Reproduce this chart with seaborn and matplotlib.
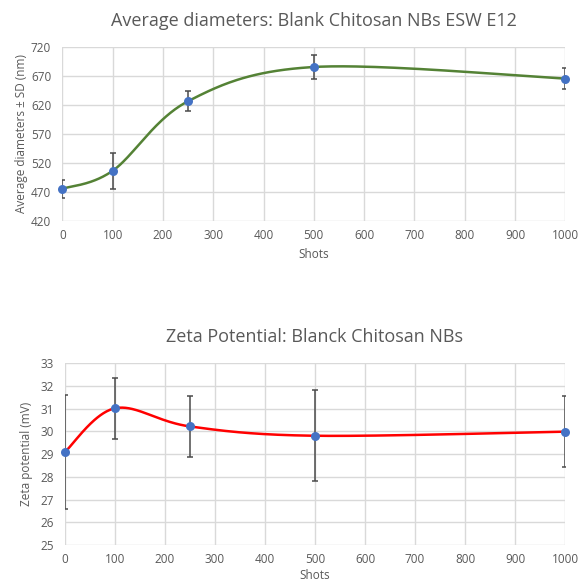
import numpy as np
import pandas as pd
import matplotlib
matplotlib.use("Agg")
import matplotlib.pyplot as plt
import seaborn as sns

# ---- data ----
shots = [0, 100, 250, 500, 1000]
diam_mean = [475, 506, 626, 685, 665]
diam_sd = [16, 31, 17, 20, 18]
zeta_mean = [29.1, 31.02, 30.22, 29.81, 29.99]
zeta_sd = [2.5, 1.35, 1.33, 2.0, 1.56]

title_top = "Average diameters: Blank Chitosan NBs ESW E12"
title_bot = "Zeta Potential: Blanck Chitosan NBs"
ylabel_top = "Average diameters ± SD (nm)"
ylabel_bot = "Zeta potential (mV)"
xlabel = "Shots"
xticks = list(range(0, 1001, 100))
yticks_top = list(range(420, 721, 50))
yticks_bot = list(range(25, 34))

sns.set_theme(style="whitegrid")
plt.rcParams['font.family'] = ['Open Sans', 'DejaVu Sans']

TXT = "#595959"
GRID = "#D9D9D9"
BLUE = "#4472C4"


def smooth(xs, ys, sx, sy, n=60):
    """Excel-like smoothed line: cubic Bezier with Catmull-Rom control points,
    computed in screen-proportional space."""
    P = np.column_stack([np.asarray(xs, float) * sx, np.asarray(ys, float) * sy])
    Pp = np.vstack([P[0], P, P[-1]])
    out = []
    t = np.linspace(0, 1, n)[:, None]
    for i in range(len(P) - 1):
        p0, p1, p2, p3 = Pp[i], Pp[i + 1], Pp[i + 2], Pp[i + 3]
        c1 = p1 + (p2 - p0) / 6.0
        c2 = p2 - (p3 - p1) / 6.0
        seg = ((1 - t) ** 3) * p1 + 3 * ((1 - t) ** 2) * t * c1 + 3 * (1 - t) * t ** 2 * c2 + t ** 3 * p2
        out.append(seg if i == 0 else seg[1:])
    out = np.vstack(out)
    return out[:, 0] / sx, out[:, 1] / sy


fig = plt.figure(figsize=(5.83, 5.85), dpi=100)
ax1 = fig.add_axes([62.3 / 583, 1 - 220.7 / 585, (565.3 - 62.3) / 583, (220.7 - 46.7) / 585])
ax2 = fig.add_axes([65 / 583, 1 - 545 / 585, (565 - 65) / 583, (545 - 363.3) / 585])


def draw(ax, mean, sd, color, ylim, yticks, title, ylabel, sy, ylpad, xlpad):
    sx = 500 / 1000
    cx, cy = smooth(shots, mean, sx, sy)
    sns.lineplot(x=cx, y=cy, ax=ax, color=color, linewidth=1.8, sort=False, estimator=None, zorder=3)
    ax.errorbar(shots, mean, yerr=sd, fmt="none", ecolor="#4a4a4a", elinewidth=1.1,
                capsize=2.3, capthick=1.1, zorder=4)
    df = pd.DataFrame({"shots": shots, "v": mean})
    sns.scatterplot(data=df, x="shots", y="v", ax=ax, color=BLUE, s=42, edgecolor=BLUE,
                    linewidth=0, zorder=5, clip_on=False)
    ax.set_xlim(0, 1000)
    ax.set_ylim(*ylim)
    ax.set_xticks(xticks)
    ax.set_yticks(yticks)
    ax.grid(True, color=GRID, linewidth=1.0)
    for s in ax.spines.values():
        s.set_visible(False)
    ax.tick_params(axis="both", colors=TXT, labelsize=8.5, length=0)
    ax.tick_params(axis="y", pad=8)
    ax.tick_params(axis="x", pad=6)
    ax.set_xlabel(xlabel, color=TXT, fontsize=8.5, labelpad=xlpad)
    ax.set_ylabel(ylabel, color=TXT, fontsize=8.5, labelpad=ylpad)
    ax.set_title(title, color=TXT, fontsize=13, pad=15)


draw(ax1, diam_mean, diam_sd, "#548235", (420, 720), yticks_top, title_top, ylabel_top, 174 / 300, 2, 4)
draw(ax2, zeta_mean, zeta_sd, "#FF0000", (25, 33), yticks_bot, title_bot, ylabel_bot, 182 / 8, 5, 2)

fig.savefig("out.png", dpi=100, facecolor="white")
